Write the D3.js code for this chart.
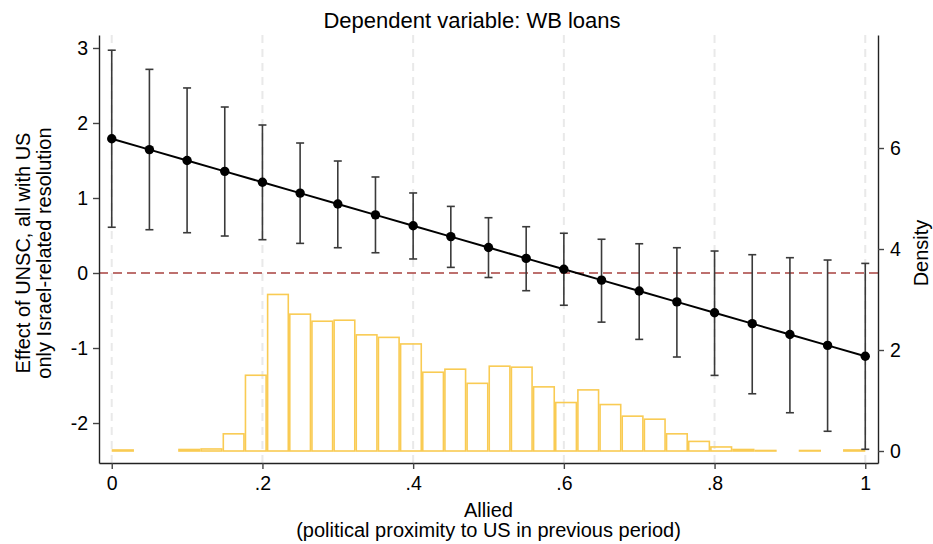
<!DOCTYPE html>
<html>
<head>
<meta charset="utf-8">
<script src="https://cdn.jsdelivr.net/npm/d3@7"></script>
<style>
  body { margin: 0; background: #fff; }
  svg { font-family: Arial, "Liberation Sans", sans-serif; }
</style>
</head>
<body>
<svg id="chart" width="933" height="544"></svg>
<script>
// marginal effect at each value of Allied
var allied = [0, .05, .10, .15, .20, .25, .30, .35, .40, .45, .50, .55, .60, .65, .70, .75, .80, .85, .90, .95, 1.0];
var effect = [1.79, 1.645, 1.50, 1.355, 1.21, 1.065, 0.92, 0.775, 0.63, 0.485, 0.34, 0.195, 0.05, -0.095, -0.24, -0.385, -0.53, -0.675, -0.82, -0.965, -1.11];
var ciUpper = [2.97, 2.715, 2.467, 2.213, 1.973, 1.733, 1.493, 1.28, 1.067, 0.888, 0.737, 0.617, 0.53, 0.45, 0.39, 0.337, 0.293, 0.244, 0.204, 0.173, 0.128];
var ciLower = [0.61, 0.577, 0.537, 0.493, 0.444, 0.395, 0.337, 0.27, 0.187, 0.075, -0.06, -0.236, -0.43, -0.655, -0.885, -1.12, -1.365, -1.61, -1.863, -2.11, -2.35];

// histogram of Allied (34 bins from 0 to 1)
var binStart = 0, binEnd = 1;
var density = [0.02, 0, 0, 0.03, 0.04, 0.34, 1.50, 3.10, 2.71, 2.57, 2.59, 2.30, 2.25, 2.12, 1.56, 1.62, 1.34,
               1.68, 1.66, 1.27, 0.96, 1.21, 0.92, 0.69, 0.63, 0.34, 0.19, 0.08, 0.03, 0.01, 0, 0.01, 0, 0.02];

var xTicks = [0, .2, .4, .6, .8, 1];
var xTickLabels = ["0", ".2", ".4", ".6", ".8", "1"];
var yTicks = [-2, -1, 0, 1, 2, 3];
var densTicks = [0, 2, 4, 6];

function init(){
    var left = 99, right = 878, top = 35, bottom = 463;
    var svg = d3.select("#chart");

    //scales
    var x = d3.scaleLinear().domain([-0.0169, 1.0169]).range([left, right]);
    var y = d3.scaleLinear().domain([-2.533, 3.173]).range([bottom, top]);
    var yd = d3.scaleLinear().domain([-0.2376, 8.238]).range([bottom, top]);

    //vertical dashed grid
    svg.append("g").selectAll("line")
        .data(xTicks)
        .enter().append("line")
        .attr("x1", d => x(d)).attr("x2", d => x(d))
        .attr("y1", top).attr("y2", bottom)
        .attr("stroke", "#e9e9e9")
        .attr("stroke-width", 2)
        .attr("stroke-dasharray", "8,6");

    //histogram
    var bw = (binEnd - binStart) / density.length;
    svg.append("g").selectAll("rect")
        .data(density)
        .enter().append("rect")
        .attr("x", (d, i) => x(binStart + i * bw) + 0.75)
        .attr("width", (d, i) => x(binStart + (i + 1) * bw) - x(binStart + i * bw) - 1.5)
        .attr("y", d => yd(d))
        .attr("height", d => yd(0) - yd(d))
        .attr("fill", "none")
        .attr("stroke", d => d > 0 ? "#f9cb53" : "none")
        .attr("stroke-width", 1.6);

    //zero line
    svg.append("line")
        .attr("x1", left).attr("x2", right)
        .attr("y1", y(0)).attr("y2", y(0))
        .attr("stroke", "#a8413f")
        .attr("stroke-width", 1.6)
        .attr("stroke-dasharray", "9,5");

    //error bars
    var ci = svg.append("g").attr("stroke", "#3a3a3a").attr("stroke-width", 1.6);
    allied.forEach(function(a, i) {
        ci.append("line").attr("x1", x(a)).attr("x2", x(a))
            .attr("y1", y(ciUpper[i])).attr("y2", y(ciLower[i]));
        ci.append("line").attr("x1", x(a) - 4).attr("x2", x(a) + 4)
            .attr("y1", y(ciUpper[i])).attr("y2", y(ciUpper[i]));
        ci.append("line").attr("x1", x(a) - 4).attr("x2", x(a) + 4)
            .attr("y1", y(ciLower[i])).attr("y2", y(ciLower[i]));
    });

    //line + points
    var line = d3.line().x((d, i) => x(allied[i])).y(d => y(d));
    svg.append("path")
        .datum(effect)
        .attr("d", line)
        .attr("fill", "none")
        .attr("stroke", "#000")
        .attr("stroke-width", 2);
    svg.append("g").selectAll("circle")
        .data(effect)
        .enter().append("circle")
        .attr("cx", (d, i) => x(allied[i]))
        .attr("cy", d => y(d))
        .attr("r", 4.7)
        .attr("fill", "#000");

    //axes
    var xAxis = svg.append("g")
        .attr("transform", "translate(0," + bottom + ")")
        .call(d3.axisBottom(x).tickValues(xTicks).tickFormat((d, i) => xTickLabels[i]).tickSize(6).tickSizeOuter(0).tickPadding(7));
    var yAxis = svg.append("g")
        .attr("transform", "translate(" + left + ",0)")
        .call(d3.axisLeft(y).tickValues(yTicks).tickSize(6).tickSizeOuter(0).tickPadding(5));
    var dAxis = svg.append("g")
        .attr("transform", "translate(" + right + ",0)")
        .call(d3.axisRight(yd).tickValues(densTicks).tickSize(6).tickSizeOuter(0).tickPadding(6));
    [xAxis, yAxis, dAxis].forEach(function(g) {
        g.select(".domain").attr("stroke", "#222").attr("stroke-width", 1.4);
        g.selectAll(".tick line").attr("stroke", "#444").attr("stroke-width", 1.4);
        g.selectAll(".tick text").attr("font-size", 19.5).attr("fill", "#000")
            .attr("font-family", "Arial, 'Liberation Sans', sans-serif");
    });
    yAxis.selectAll(".tick text").text(d => d < 0 ? "-" + Math.abs(d) : d);

    //titles
    svg.append("text")
        .attr("x", 472).attr("y", 28)
        .attr("text-anchor", "middle").attr("font-size", 22)
        .text("Dependent variable: WB loans");
    svg.append("text")
        .attr("x", (left + right) / 2).attr("y", 517)
        .attr("text-anchor", "middle").attr("font-size", 20)
        .text("Allied");
    svg.append("text")
        .attr("x", (left + right) / 2).attr("y", 537)
        .attr("text-anchor", "middle").attr("font-size", 20)
        .text("(political proximity to US in previous period)");
    var yt = svg.append("text")
        .attr("transform", "translate(30,253) rotate(-90)")
        .attr("text-anchor", "middle").attr("font-size", 20);
    yt.append("tspan").attr("x", 0).attr("dy", 0).text("Effect of UNSC, all with US");
    yt.append("tspan").attr("x", 0).attr("dy", 21).text("only Israel-related resolution");
    svg.append("text")
        .attr("transform", "translate(928,253) rotate(-90)")
        .attr("text-anchor", "middle").attr("font-size", 20)
        .text("Density");
}
window.onload = init;
</script>
</body>
</html>
